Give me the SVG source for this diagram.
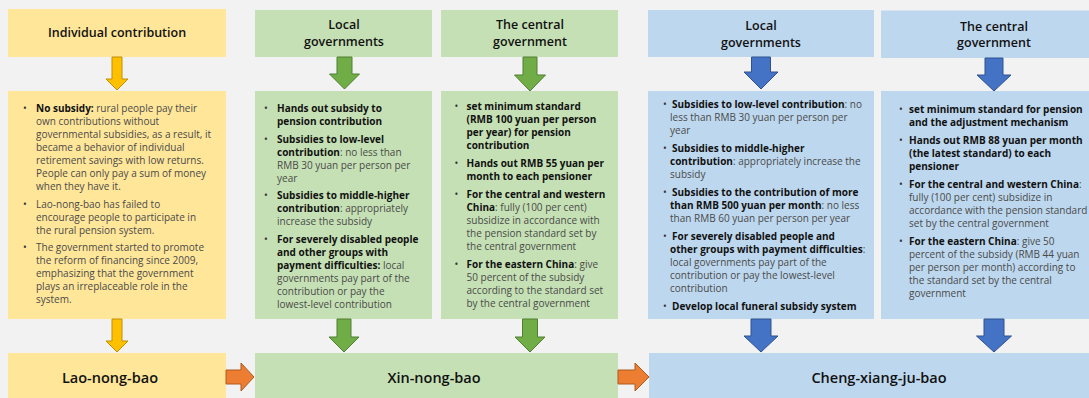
<svg xmlns="http://www.w3.org/2000/svg" width="1089" height="398" viewBox="0 0 1089 398">
<style>
.hdr{font-family:"Open Sans","Noto Sans",sans-serif;font-size:12.5px;font-weight:600;fill:#111;text-anchor:middle}
.lbl{font-family:"Open Sans","Noto Sans",sans-serif;font-size:14.5px;font-weight:600;fill:#111;text-anchor:middle}
.bt{font-family:"Open Sans","Noto Sans",sans-serif;font-size:10px;fill:#4a4a4a}
.b{font-weight:700;fill:#111}
.bul{font-family:"Open Sans","Noto Sans",sans-serif;font-size:10px;fill:#333;text-anchor:middle}
.yel{fill:#FFE699}
.grn{fill:#C5E0B4}
.blu{fill:#BDD7EE}
.ay{fill:#FFC000;stroke:#BF9000;stroke-width:1}
.ag{fill:#70AD47;stroke:#507E32;stroke-width:1}
.ab{fill:#4472C4;stroke:#2F528F;stroke-width:1}
.ao{fill:#ED7D31;stroke:#AE5A21;stroke-width:1}
</style>
<rect x="0" y="0" width="1089" height="398" fill="#F2F2F2"/>

<g id="hdr-individual">
<rect class="yel" x="8" y="9" width="218" height="48"/>
<text class="hdr" x="117" y="37">Individual contribution</text>
</g>
<g id="hdr-local1">
<rect class="grn" x="255" y="10" width="177" height="47"/>
<text class="hdr" x="344" y="29">Local</text>
<text class="hdr" x="344" y="46">governments</text>
</g>
<g id="hdr-central1">
<rect class="grn" x="441" y="10" width="177" height="47"/>
<text class="hdr" x="530" y="29">The central</text>
<text class="hdr" x="530" y="46">government</text>
</g>
<g id="hdr-local2">
<rect class="blu" x="648" y="10" width="226" height="47"/>
<text class="hdr" x="761" y="30">Local</text>
<text class="hdr" x="761" y="46.5">governments</text>
</g>
<g id="hdr-central2">
<rect class="blu" x="881" y="10.5" width="226" height="47.5"/>
<text class="hdr" x="994" y="30.5">The central</text>
<text class="hdr" x="994" y="47">government</text>
</g>

<g id="box-individual">
<rect class="yel" x="8" y="91" width="218" height="228"/>
<text class="bul" x="25" y="112">•</text>
<text class="bul" x="25" y="207.5">•</text>
<text class="bul" x="25" y="251">•</text>
<text class="bt">
<tspan x="36" y="112"><tspan class="b">No subsidy:</tspan> rural people pay their</tspan>
<tspan x="36" y="125">own contributions without</tspan>
<tspan x="36" y="138">governmental subsidies, as a result, it</tspan>
<tspan x="36" y="151">became a behavior of individual</tspan>
<tspan x="36" y="164">retirement savings with low returns.</tspan>
<tspan x="36" y="177">People can only pay a sum of money</tspan>
<tspan x="36" y="190">when they have it.</tspan>
<tspan x="36" y="207.5">Lao-nong-bao has failed to</tspan>
<tspan x="36" y="220.5">encourage people to participate in</tspan>
<tspan x="36" y="233.5">the rural pension system.</tspan>
<tspan x="36" y="251">The government started to promote</tspan>
<tspan x="36" y="264">the reform of financing since 2009,</tspan>
<tspan x="36" y="277">emphasizing that the government</tspan>
<tspan x="36" y="290">plays an irreplaceable role in the</tspan>
<tspan x="36" y="303">system.</tspan>
</text>
</g>

<g id="box-local1">
<rect class="grn" x="255" y="91" width="177" height="228"/>
<text class="bul" x="266" y="112">•</text>
<text class="bul" x="266" y="142.5">•</text>
<text class="bul" x="266" y="199">•</text>
<text class="bul" x="266" y="242.5">•</text>
<text class="bt">
<tspan x="277" y="112" class="b">Hands out subsidy to</tspan>
<tspan x="277" y="125" class="b">pension contribution</tspan>
<tspan x="277" y="142.5" class="b">Subsidies to low-level</tspan>
<tspan x="277" y="155.5"><tspan class="b">contribution</tspan>: no less than</tspan>
<tspan x="277" y="168.5">RMB 30 yuan per person per</tspan>
<tspan x="277" y="181.5">year</tspan>
<tspan x="277" y="199" class="b">Subsidies to middle-higher</tspan>
<tspan x="277" y="212"><tspan class="b">contribution</tspan>: appropriately</tspan>
<tspan x="277" y="225">increase the subsidy</tspan>
<tspan x="277" y="242.5" class="b">For severely disabled people</tspan>
<tspan x="277" y="255.5" class="b">and other groups with</tspan>
<tspan x="277" y="268.5"><tspan class="b">payment difficulties:</tspan> local</tspan>
<tspan x="277" y="281.5">governments pay part of the</tspan>
<tspan x="277" y="294.5">contribution or pay the</tspan>
<tspan x="277" y="307.5">lowest-level contribution</tspan>
</text>
</g>

<g id="box-central1">
<rect class="grn" x="441" y="91" width="177" height="228"/>
<text class="bul" x="456.5" y="110">•</text>
<text class="bul" x="456.5" y="167">•</text>
<text class="bul" x="456.5" y="198">•</text>
<text class="bul" x="456.5" y="268">•</text>
<text class="bt">
<tspan x="466.5" y="110" class="b">set minimum standard</tspan>
<tspan x="466.5" y="123" class="b">(RMB 100 yuan per person</tspan>
<tspan x="466.5" y="136" class="b">per year) for pension</tspan>
<tspan x="466.5" y="149" class="b">contribution</tspan>
<tspan x="466.5" y="167" class="b">Hands out RMB 55 yuan per</tspan>
<tspan x="466.5" y="180" class="b">month to each pensioner</tspan>
<tspan x="466.5" y="198" class="b">For the central and western</tspan>
<tspan x="466.5" y="211"><tspan class="b">China</tspan>: fully (100 per cent)</tspan>
<tspan x="466.5" y="224">subsidize in accordance with</tspan>
<tspan x="466.5" y="237">the pension standard set by</tspan>
<tspan x="466.5" y="250">the central government</tspan>
<tspan x="466.5" y="268"><tspan class="b">For the eastern China</tspan>: give</tspan>
<tspan x="466.5" y="281">50 percent of the subsidy</tspan>
<tspan x="466.5" y="294">according to the standard set</tspan>
<tspan x="466.5" y="307">by the central government</tspan>
</text>
</g>

<g id="box-local2">
<rect class="blu" x="648" y="91" width="226" height="228"/>
<text class="bul" x="665" y="108">•</text>
<text class="bul" x="665" y="152">•</text>
<text class="bul" x="665" y="196">•</text>
<text class="bul" x="665" y="240">•</text>
<text class="bul" x="665" y="310">•</text>
<text class="bt">
<tspan x="672" y="108"><tspan class="b">Subsidies to low-level contribution</tspan>: no</tspan>
<tspan x="670" y="121">less than RMB 30 yuan per person per</tspan>
<tspan x="670" y="134">year</tspan>
<tspan x="672" y="152" class="b">Subsidies to middle-higher</tspan>
<tspan x="670" y="165"><tspan class="b">contribution</tspan>: appropriately increase the</tspan>
<tspan x="670" y="178">subsidy</tspan>
<tspan x="672" y="196" class="b">Subsidies to the contribution of more</tspan>
<tspan x="670" y="209"><tspan class="b">than RMB 500 yuan per month</tspan>: no less</tspan>
<tspan x="670" y="222">than RMB 60 yuan per person per year</tspan>
<tspan x="672" y="240" class="b">For severely disabled people and</tspan>
<tspan x="670" y="253"><tspan class="b">other groups with payment difficulties</tspan>:</tspan>
<tspan x="670" y="266">local governments pay part of the</tspan>
<tspan x="670" y="279">contribution or pay the lowest-level</tspan>
<tspan x="670" y="292">contribution</tspan>
<tspan x="672" y="310" class="b">Develop local funeral subsidy system</tspan>
</text>
</g>

<g id="box-central2">
<rect class="blu" x="881" y="91" width="226" height="228"/>
<text class="bul" x="901" y="112.5">•</text>
<text class="bul" x="901" y="143.5">•</text>
<text class="bul" x="901" y="187.5">•</text>
<text class="bul" x="901" y="244.5">•</text>
<text class="bt">
<tspan x="909" y="112.5" class="b">set minimum standard for pension</tspan>
<tspan x="909" y="125.5" class="b">and the adjustment mechanism</tspan>
<tspan x="909" y="143.5" class="b">Hands out RMB 88 yuan per month</tspan>
<tspan x="909" y="156.5" class="b">(the latest standard) to each</tspan>
<tspan x="909" y="169.5" class="b">pensioner</tspan>
<tspan x="909" y="187.5"><tspan class="b">For the central and western China</tspan>:</tspan>
<tspan x="909" y="200.5">fully (100 per cent) subsidize in</tspan>
<tspan x="909" y="213.5">accordance with the pension standard</tspan>
<tspan x="909" y="226.5">set by the central government</tspan>
<tspan x="909" y="244.5"><tspan class="b">For the eastern China</tspan>: give 50</tspan>
<tspan x="909" y="257.5">percent of the subsidy (RMB 44 yuan</tspan>
<tspan x="909" y="270.5">per person per month) according to</tspan>
<tspan x="909" y="283.5">the standard set by the central</tspan>
<tspan x="909" y="296.5">government</tspan>
</text>
</g>

<g id="lao-nong-bao">
<rect class="yel" x="8" y="353" width="218" height="50"/>
<text class="lbl" x="110" y="383">Lao-nong-bao</text>
</g>
<g id="xin-nong-bao">
<rect class="grn" x="255" y="353" width="363" height="50"/>
<text class="lbl" x="434" y="383">Xin-nong-bao</text>
</g>
<g id="cheng-xiang-ju-bao">
<rect class="blu" x="649" y="353" width="460" height="50"/>
<text class="lbl" x="879" y="383">Cheng-xiang-ju-bao</text>
</g>

<g id="connectors">
<path class="ay" d="M112,57 H122 V79 H128 L117,90 L106,79 H112 Z"/>
<path class="ag" d="M337,57 H352 V74 H359.5 L344.5,89 L329.5,74 H337 Z"/>
<path class="ag" d="M523,57 H537 V75 H545.5 L530,91 L514.5,75 H523 Z"/>
<path class="ab" d="M751.5,57 H770.5 V72 H778 L761,89 L744,72 H751.5 Z"/>
<path class="ab" d="M985,58 H1003 V75 H1011 L994,91 L977,75 H985 Z"/>
<path class="ay" d="M112,319 H122 V341 H128 L117,352 L106,341 H112 Z"/>
<path class="ag" d="M337,319 H351 V337 H359 L344,352 L329,337 H337 Z"/>
<path class="ag" d="M522.5,319 H537.5 V337 H545 L530,352 L515,337 H522.5 Z"/>
<path class="ab" d="M751,319 H771 V336 H778 L761,352 L744,336 H751 Z"/>
<path class="ab" d="M984,319 H1004 V336 H1011.5 L994,352 L976.5,336 H984 Z"/>
<path class="ao" d="M226,370 H241 V363 L254,377 L241,391 V384 H226 Z"/>
<path class="ao" d="M618,370 H635 V363 L649,377 L635,391 V384 H618 Z"/>
</g>
</svg>
